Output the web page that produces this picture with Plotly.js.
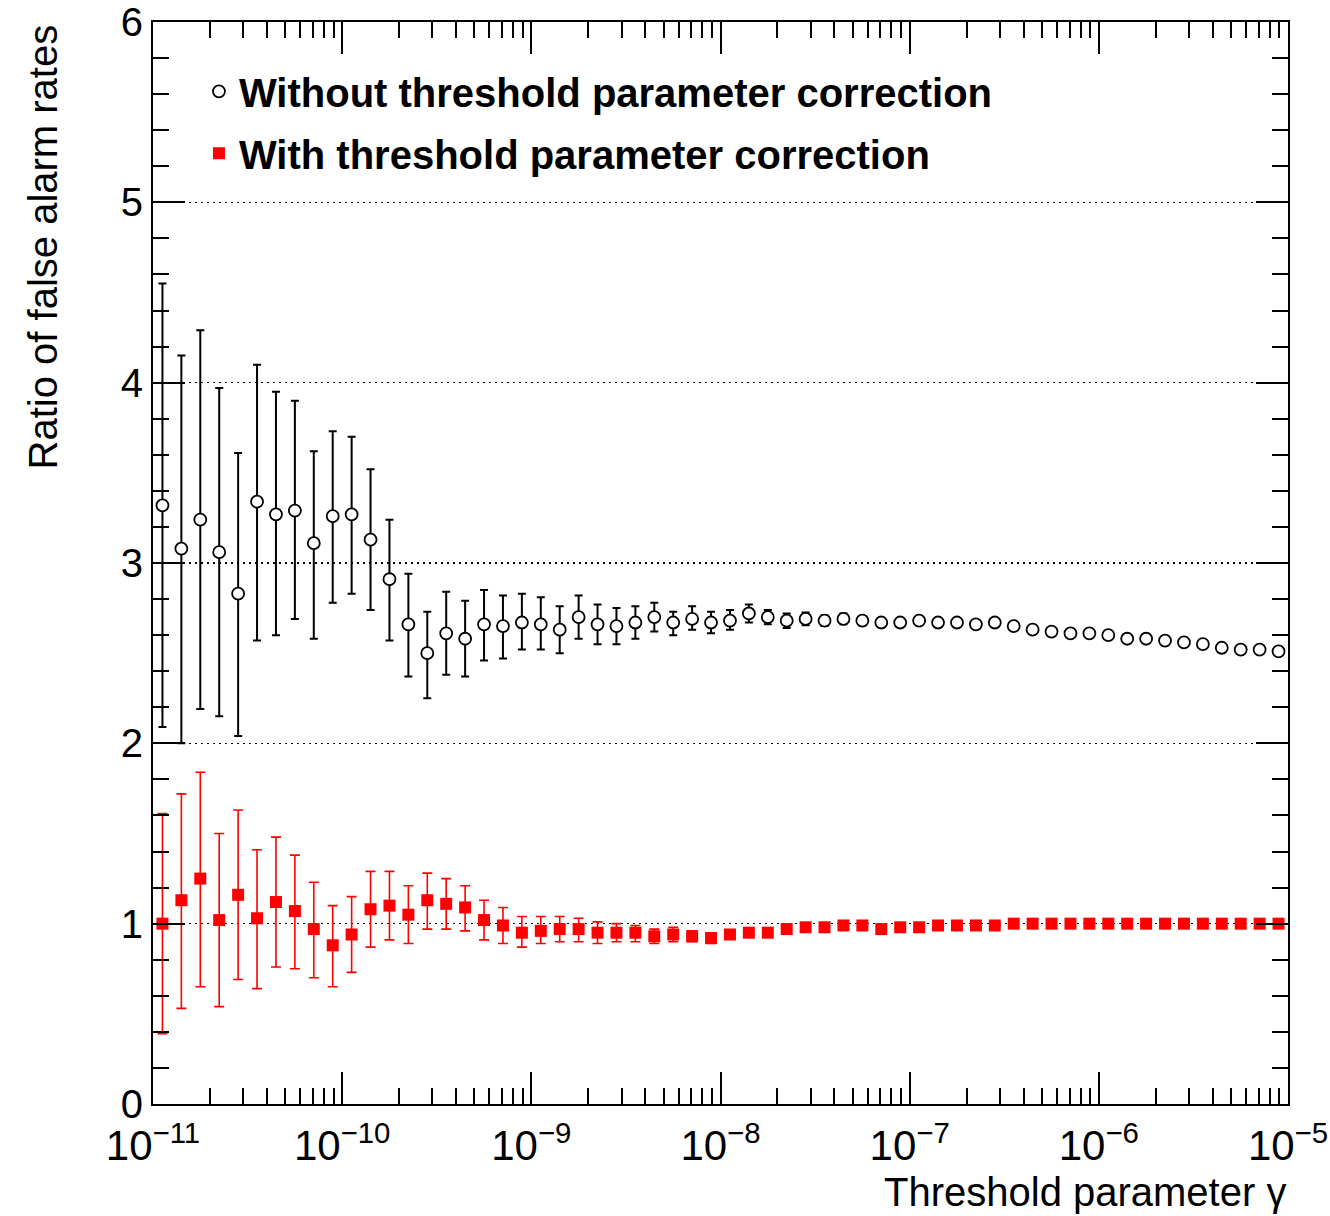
<!DOCTYPE html>
<html>
<head>
<meta charset="utf-8">
<script src="https://cdn.plot.ly/plotly-3.0.1.min.js"></script>
<style>
  html, body { margin: 0; padding: 0; background: #ffffff; }
  #chart { width: 1330px; height: 1216px; }
</style>
</head>
<body>
<div id="chart"></div>
<script>
// log10 of threshold parameter gamma (bin centres)
const logGamma = [
  -10.95, -10.85, -10.75, -10.65, -10.55, -10.45, -10.35, -10.25, -10.15, -10.05,
  -9.95, -9.85, -9.75, -9.65, -9.55, -9.45, -9.35, -9.25, -9.15, -9.05,
  -8.95, -8.85, -8.75, -8.65, -8.55, -8.45, -8.35, -8.25, -8.15, -8.05,
  -7.95, -7.85, -7.75, -7.65, -7.55, -7.45, -7.35, -7.25, -7.15, -7.05,
  -6.95, -6.85, -6.75, -6.65, -6.55, -6.45, -6.35, -6.25, -6.15, -6.05,
  -5.95, -5.85, -5.75, -5.65, -5.55, -5.45, -5.35, -5.25, -5.15, -5.05
];

// Without threshold parameter correction
const ratioWithout = [
  3.32, 3.08, 3.24, 3.06, 2.83, 3.34, 3.27, 3.29, 3.11, 3.26,
  3.27, 3.13, 2.91, 2.66, 2.50, 2.61, 2.58, 2.66, 2.65, 2.67,
  2.66, 2.63, 2.70, 2.66, 2.65, 2.67, 2.70, 2.67, 2.69, 2.67,
  2.68, 2.72, 2.70, 2.68, 2.69, 2.68, 2.69, 2.68, 2.67, 2.67,
  2.68, 2.67, 2.67, 2.66, 2.67, 2.65, 2.63, 2.62, 2.61, 2.61,
  2.60, 2.58, 2.58, 2.57, 2.56, 2.55, 2.53, 2.52, 2.52, 2.51
];
const errWithoutUp = [
  1.23, 1.07, 1.05, 0.91, 0.78, 0.76, 0.68, 0.61, 0.51, 0.47,
  0.43, 0.39, 0.33, 0.28, 0.23, 0.23, 0.21, 0.19, 0.17, 0.16,
  0.15, 0.13, 0.12, 0.11, 0.10, 0.09, 0.08, 0.06, 0.07, 0.06,
  0.06, 0.05, 0.04, 0.04, 0.035, 0.03, 0.03, 0.025, 0.025, 0.02,
  0.02, 0.02, 0.02, 0.018, 0.017, 0.016, 0.015, 0.014, 0.013, 0.012,
  0.012, 0.011, 0.011, 0.01, 0.01, 0.01, 0.01, 0.01, 0.01, 0.01
];
const errWithoutDown = [
  1.23, 1.08, 1.05, 0.91, 0.79, 0.77, 0.67, 0.60, 0.53, 0.48,
  0.44, 0.39, 0.34, 0.29, 0.25, 0.23, 0.21, 0.20, 0.18, 0.15,
  0.14, 0.13, 0.12, 0.11, 0.10, 0.09, 0.08, 0.07, 0.06, 0.06,
  0.05, 0.05, 0.04, 0.04, 0.035, 0.03, 0.03, 0.025, 0.025, 0.02,
  0.02, 0.02, 0.02, 0.018, 0.017, 0.016, 0.015, 0.014, 0.013, 0.012,
  0.012, 0.011, 0.011, 0.01, 0.01, 0.01, 0.01, 0.01, 0.01, 0.01
];

// With threshold parameter correction
const ratioWith = [
  1.00, 1.13, 1.25, 1.02, 1.16, 1.03, 1.12, 1.07, 0.97, 0.88,
  0.94, 1.08, 1.10, 1.05, 1.13, 1.11, 1.09, 1.02, 0.99, 0.95,
  0.96, 0.97, 0.97, 0.95, 0.95, 0.95, 0.93, 0.94, 0.93, 0.92,
  0.94, 0.95, 0.95, 0.97, 0.98, 0.98, 0.99, 0.99, 0.97, 0.98,
  0.98, 0.99, 0.99, 0.99, 0.99, 1.00, 1.00, 1.00, 1.00, 1.00,
  1.00, 1.00, 1.00, 1.00, 1.00, 1.00, 1.00, 1.00, 1.00, 1.00
];
const errWithUp = [
  0.61, 0.59, 0.59, 0.48, 0.47, 0.38, 0.36, 0.31, 0.26, 0.22,
  0.21, 0.21, 0.19, 0.16, 0.15, 0.14, 0.12, 0.11, 0.10, 0.09,
  0.08, 0.07, 0.06, 0.06, 0.05, 0.04, 0.04, 0.04, 0.03, 0.03,
  0.025, 0.02, 0.02, 0.02, 0.018, 0.016, 0.015, 0.014, 0.013, 0.012,
  0.012, 0.011, 0.011, 0.01, 0.01, 0.01, 0.01, 0.01, 0.01, 0.01,
  0.01, 0.01, 0.01, 0.01, 0.01, 0.01, 0.01, 0.01, 0.01, 0.01
];
const errWithDown = [
  0.61, 0.60, 0.60, 0.48, 0.47, 0.39, 0.36, 0.32, 0.27, 0.23,
  0.21, 0.21, 0.19, 0.16, 0.16, 0.14, 0.13, 0.11, 0.10, 0.08,
  0.07, 0.07, 0.07, 0.06, 0.05, 0.05, 0.04, 0.04, 0.03, 0.03,
  0.025, 0.02, 0.02, 0.02, 0.018, 0.016, 0.015, 0.014, 0.013, 0.012,
  0.012, 0.011, 0.011, 0.01, 0.01, 0.01, 0.01, 0.01, 0.01, 0.01,
  0.01, 0.01, 0.01, 0.01, 0.01, 0.01, 0.01, 0.01, 0.01, 0.01
];

// axis ticks
const xMajorTicks = [1e-11, 1e-10, 1e-9, 1e-8, 1e-7, 1e-6, 1e-5];
const xMajorLabels = ['10<sup>\u221211</sup>', '10<sup>\u221210</sup>', '10<sup>\u22129</sup>',
  '10<sup>\u22128</sup>', '10<sup>\u22127</sup>', '10<sup>\u22126</sup>', '10<sup>\u22125</sup>'];
const xMinorMultipliers = [2, 3, 4, 5, 6, 7, 8, 9];
const yMajorTicks = [0, 1, 2, 3, 4, 5, 6];
const yMinorSteps = [0.2, 0.4, 0.6, 0.8];

const seriesNames = ['Without threshold parameter correction', 'With threshold parameter correction'];

const gamma = logGamma.map(v => Math.pow(10, v));
const xMinorTicks = [];
xMajorTicks.slice(0, -1).forEach(d => xMinorMultipliers.forEach(m => xMinorTicks.push(d * m)));
const yMinorTicks = [];
yMajorTicks.slice(0, -1).forEach(d => yMinorSteps.forEach(s => yMinorTicks.push(+(d + s).toFixed(2))));

const FONT = 'Liberation Sans, Arial, Helvetica, sans-serif';
const X_RANGE = [-11.000001, -4.999999];

const traces = [
  {
    x: gamma, y: ratioWithout, name: seriesNames[0], legendgroup: 'a',
    type: 'scatter', mode: 'markers',
    marker: { symbol: 'circle', size: 12, color: '#ffffff', line: { color: '#000000', width: 1.8 } },
    error_y: { type: 'data', symmetric: false, array: errWithoutUp, arrayminus: errWithoutDown,
               color: '#000000', thickness: 2, width: 4 },
    hoverinfo: 'x+y'
  },
  {
    x: gamma, y: ratioWith, name: seriesNames[1], legendgroup: 'b',
    type: 'scatter', mode: 'markers',
    marker: { symbol: 'square', size: 12, color: '#ff0000', line: { width: 0 } },
    error_y: { type: 'data', symmetric: false, array: errWithUp, arrayminus: errWithDown,
               color: '#ff0000', thickness: 1.6, width: 5 },
    hoverinfo: 'x+y'
  },
  {
    x: [1e-8], y: [-1], xaxis: 'x2', yaxis: 'y2', type: 'scatter', mode: 'markers',
    marker: { opacity: 0 }, showlegend: false, hoverinfo: 'skip'
  }
];

const layout = {
  width: 1330, height: 1216,
  margin: { l: 153, r: 42, t: 22, b: 112 },
  paper_bgcolor: '#ffffff', plot_bgcolor: '#ffffff',
  showlegend: true,
  font: { family: FONT, color: '#000000' },
  xaxis: {
    type: 'log', range: X_RANGE, tickmode: 'array', tickvals: xMajorTicks, ticktext: xMajorLabels,
    ticks: 'inside', ticklen: 32, tickwidth: 2, tickcolor: '#000000',
    showline: true, linewidth: 2, linecolor: '#000000', mirror: 'ticks',
    showgrid: false, zeroline: false,
    tickfont: { family: FONT, size: 42, color: '#000000' },
    ticklabelstandoff: 4
  },
  xaxis2: {
    type: 'log', range: X_RANGE, overlaying: 'x', anchor: 'y2',
    tickmode: 'array', tickvals: xMinorTicks, showticklabels: false,
    ticks: 'inside', ticklen: 16, tickwidth: 2, tickcolor: '#000000',
    showline: false, mirror: 'ticks', showgrid: false, zeroline: false
  },
  yaxis: {
    range: [0, 6], tickmode: 'array', tickvals: yMajorTicks,
    ticks: 'inside', ticklen: 32, tickwidth: 2, tickcolor: '#000000',
    showline: true, linewidth: 2, linecolor: '#000000', mirror: 'ticks',
    showgrid: true, gridcolor: '#000000', gridwidth: 1.2, griddash: '2px,4px',
    zeroline: false,
    tickfont: { family: FONT, size: 40, color: '#000000' }
  },
  yaxis2: {
    range: [0, 6], overlaying: 'y', anchor: 'x2', side: 'left',
    tickmode: 'array', tickvals: yMinorTicks, showticklabels: false,
    ticks: 'inside', ticklen: 16, tickwidth: 2, tickcolor: '#000000',
    showline: false, mirror: 'ticks', showgrid: false, zeroline: false
  },
  legend: {
    x: 0.0405, y: 0.966, xanchor: 'left', yanchor: 'top',
    bgcolor: 'rgba(0,0,0,0)', borderwidth: 0,
    traceorder: 'grouped', tracegroupgap: 7, itemsizing: 'trace',
    font: { family: FONT, size: 40, color: '#000000', weight: 'bold' }
  },
  annotations: [
    {
      text: 'Threshold parameter \u03b3', xref: 'paper', yref: 'paper',
      x: 1, y: -0.059, xanchor: 'right', yanchor: 'top', showarrow: false,
      font: { family: FONT, size: 40, color: '#000000' }
    },
    {
      text: 'Ratio of false alarm rates', xref: 'paper', yref: 'paper',
      x: -0.097, y: 1, xanchor: 'center', yanchor: 'top', showarrow: false, textangle: -90,
      font: { family: FONT, size: 40, color: '#000000' }
    }
  ]
};

Plotly.newPlot('chart', traces, layout, { displayModeBar: false, staticPlot: true });
</script>
</body>
</html>
